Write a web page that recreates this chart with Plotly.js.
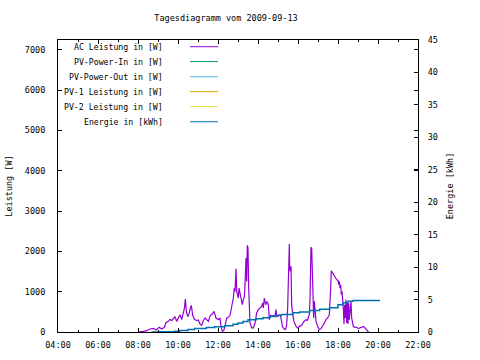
<!DOCTYPE html>
<html>
<head>
<meta charset="utf-8">
<script src="https://cdn.plot.ly/plotly-3.0.1.min.js"></script>
<style>html,body{margin:0;padding:0;background:#fff;}#chart{width:480px;height:360px;}</style>
</head>
<body>
<div id="chart"></div>
<script>
var day = '2009-09-13';

// AC Leistung in [W]
var acTimes = ['08:00','08:10','08:16','08:26','08:36','08:46','08:54','09:04','09:11','09:19','09:24','09:31','09:36','09:41','09:46','09:51','09:56','10:01','10:06','10:11','10:16','10:19','10:22','10:25','10:29','10:33','10:37','10:40','10:44','10:49','10:56','11:01','11:06','11:11','11:16','11:21','11:26','11:31','11:37','11:43','11:48','11:54','12:01','12:06','12:09','12:13','12:17','12:21','12:26','12:31','12:36','12:41','12:46','12:49','12:51','12:54','12:56','13:01','13:03','13:06','13:09','13:13','13:16','13:19','13:21','13:24','13:26','13:28','13:30','13:32','13:34','13:36','13:41','13:46','13:51','13:56','14:01','14:06','14:11','14:14','14:16','14:19','14:23','14:27','14:31','14:34','14:38','14:41','14:46','14:51','14:54','14:56','14:59','15:03','15:07','15:11','15:13','15:16','15:21','15:24','15:26','15:29','15:31','15:34','15:35','15:37','15:39','15:41','15:44','15:48','15:54','15:59','16:04','16:11','16:18','16:24','16:28','16:34','16:36','16:39','16:41','16:43','16:45','16:47','16:49','16:51','16:54','16:59','17:04','17:09','17:14','17:19','17:24','17:29','17:34','17:36','17:38','17:40','17:44','17:48','17:52','17:56','18:00','18:02','18:04','18:06','18:08','18:10','18:12','18:14','18:16','18:18','18:20','18:22','18:24','18:26','18:28','18:30','18:32','18:34','18:36','18:39','18:41','18:44','18:46','18:51','18:56','19:01','19:06','19:11','19:16','19:21','19:26','19:31','19:34'];
var acValues = [0,0,17,33,74,91,50,116,74,116,231,264,314,281,339,380,264,347,430,306,446,578,818,513,380,446,595,661,413,322,281,298,198,165,281,347,306,264,413,446,513,347,306,347,140,17,33,140,347,363,413,595,843,1091,1008,1570,1008,843,1091,967,843,678,802,884,1174,1835,1256,2150,2083,1091,430,223,100,100,223,471,554,595,637,719,595,843,678,760,678,306,413,388,413,388,554,388,388,430,413,264,140,100,58,100,182,595,1124,2182,1587,1505,1629,678,430,264,140,100,140,165,264,306,290,430,802,2100,2083,1505,678,347,760,595,264,140,58,83,140,223,306,347,430,678,1091,1521,1463,1380,1356,1298,1273,1174,1256,1091,1174,926,1008,843,595,198,678,347,802,223,719,198,719,306,513,760,347,180,140,116,116,83,100,124,140,100,41,0,0];

// PV series without visible data in the reference
var pvInTimes = [], pvInValues = [];
var pvOutTimes = [], pvOutValues = [];
var pv1Times = [], pv1Values = [];
var pv2Times = [], pv2Values = [];

// Energie in [kWh]
var enTimes = ['08:40','09:00','09:30','09:50','10:05','10:30','10:50','11:25','11:50','12:20','12:45','13:00','13:15','13:30','13:55','14:15','14:35','14:55','15:10','15:45','16:05','16:35','17:05','17:35','18:00','18:15','18:30','18:45','20:06'];
var enValues = [0,0.02,0.05,0.1,0.25,0.4,0.55,0.7,0.82,0.97,1.2,1.38,1.6,1.9,2.05,2.2,2.4,2.55,2.7,2.95,3.1,3.3,3.5,3.75,4.2,4.5,4.75,4.87,4.87];

var seriesNames = ['AC Leistung in [W]','PV-Power-In in [W]','PV-Power-Out in [W]','PV-1 Leistung in [W]','PV-2 Leistung in [W]','Energie in [kWh]'];
var seriesColors = ['#9400D3','#009E73','#56B4E9','#E69F00','#F0E442','#0072B2'];

function ts(arr){ return arr.map(function(t){ return day + ' ' + t; }); }

var traces = [
  {x: ts(acTimes), y: acValues, name: seriesNames[0], mode:'lines', line:{color:seriesColors[0], width:1.2}, yaxis:'y'},
  {x: ts(pvInTimes), y: pvInValues, name: seriesNames[1], mode:'lines', line:{color:seriesColors[1], width:1}, yaxis:'y'},
  {x: ts(pvOutTimes), y: pvOutValues, name: seriesNames[2], mode:'lines', line:{color:seriesColors[2], width:1}, yaxis:'y'},
  {x: ts(pv1Times), y: pv1Values, name: seriesNames[3], mode:'lines', line:{color:seriesColors[3], width:1}, yaxis:'y'},
  {x: ts(pv2Times), y: pv2Values, name: seriesNames[4], mode:'lines', line:{color:seriesColors[4], width:1}, yaxis:'y'},
  {x: ts(enTimes), y: enValues, name: seriesNames[5], mode:'lines', line:{color:seriesColors[5], width:1.5, shape:'hv'}, yaxis:'y2'}
];

// legend drawn gnuplot-style: right-aligned text, line sample to the right
var annotations = [], shapes = [];
var rowY = [0.977, 0.926, 0.874, 0.823, 0.772, 0.720];
for (var i = 0; i < seriesNames.length; i++) {
  annotations.push({xref:'paper', yref:'paper', x:0.2972, y:rowY[i], xanchor:'right', yanchor:'middle', text:seriesNames[i], showarrow:false, font:{size:8.2, color:'#000'}});
  shapes.push({type:'line', xref:'paper', yref:'paper', x0:0.3667, x1:0.4444, y0:rowY[i], y1:rowY[i], line:{color:seriesColors[i], width:1}});
}

var fnt = 'DejaVu Sans Mono, monospace';
var layout = {
  width: 480, height: 360,
  margin: {l:58, r:62, t:40, b:28, pad:0},
  paper_bgcolor:'#ffffff', plot_bgcolor:'#ffffff',
  font: {family: fnt, size: 8.5, color:'#000'},
  title: {text:'Tagesdiagramm vom 2009-09-13', x: 224/480, xanchor:'center', xref:'paper', y: 1 - 18/360, yanchor:'middle', font:{family:fnt, size:8.5, color:'#000'}},
  showlegend: false,
  xaxis: {type:'date', range:[day+' 04:00', day+' 22:00'], tick0: day+' 04:00', dtick: 7200000, tickformat:'%H:%M',
          ticks:'inside', ticklen:4, tickcolor:'#000', showline:true, linecolor:'#000', linewidth:1, mirror:'ticks',
          showgrid:false, zeroline:false, ticklabelstandoff:5,
          minor:{dtick:3600000, ticks:'inside', ticklen:2, tickcolor:'#000', showgrid:false}},
  yaxis: {range:[0,7245], dtick:1000, ticks:'inside', ticklen:4, tickcolor:'#000', showline:true, linecolor:'#000', linewidth:1, mirror:'ticks',
          showgrid:false, zeroline:false, ticklabelstandoff:10,
          title:{text:'Leistung [W]', standoff:10, font:{family:fnt, size:8.5}}},
  yaxis2: {overlaying:'y', side:'right', range:[0,45], dtick:5, ticks:'inside', ticklen:4, tickcolor:'#000', showline:true, linecolor:'#000', linewidth:1,
          showgrid:false, zeroline:false, ticklabelstandoff:7,
          title:{text:'Energie [kWh]', standoff:10, font:{family:fnt, size:8.5}}},
  annotations: annotations,
  shapes: shapes
};

Plotly.newPlot('chart', traces, layout, {staticPlot:true, displayModeBar:false});
</script>
</body>
</html>
